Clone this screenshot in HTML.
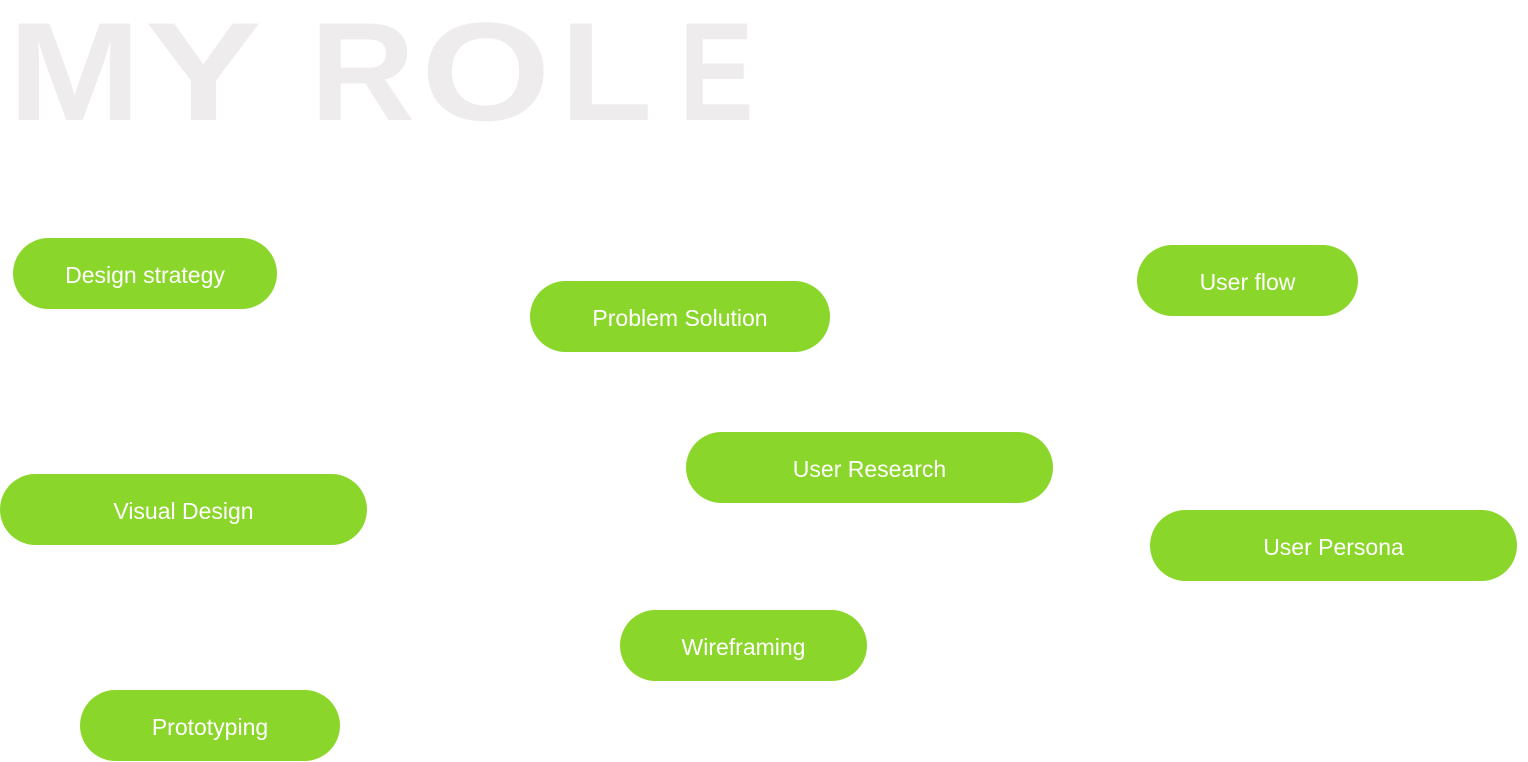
<!DOCTYPE html>
<html><head><meta charset="utf-8"><style>
html,body{margin:0;padding:0;background:#fff;width:1528px;height:762px;overflow:hidden;position:relative;font-family:"Liberation Sans",sans-serif}
.t{position:absolute;top:2px;font-size:140px;font-weight:bold;color:#eeecec;line-height:1;white-space:nowrap;transform-origin:0 0}
.p{position:absolute;height:71px;border-radius:36px;background:#8bd62b;color:#fff;font-size:23px;display:flex;align-items:center;justify-content:center;white-space:nowrap;box-sizing:border-box;padding-top:4px}
</style></head><body>
<div class="t" style="left:8px;transform:scaleX(1.14)">M</div>
<div class="t" style="left:145px;transform:scaleX(1.25)">Y</div>
<div class="t" style="left:310px;transform:scaleX(1.04)">R</div>
<div class="t" style="left:421px;transform:scaleX(1.19)">O</div>
<div class="t" style="left:560px;transform:scaleX(1.08)">L</div>
<div class="t" style="left:679px;transform:scaleX(0.8)">E</div>
<div class="p" style="left:13px;top:238px;width:264px">Design strategy</div>
<div class="p" style="left:530px;top:281px;width:300px">Problem Solution</div>
<div class="p" style="left:1137px;top:245px;width:221px">User flow</div>
<div class="p" style="left:686px;top:432px;width:367px">User Research</div>
<div class="p" style="left:0px;top:474px;width:367px">Visual Design</div>
<div class="p" style="left:1150px;top:510px;width:367px">User Persona</div>
<div class="p" style="left:620px;top:610px;width:247px">Wireframing</div>
<div class="p" style="left:80px;top:690px;width:260px">Prototyping</div>
</body></html>
